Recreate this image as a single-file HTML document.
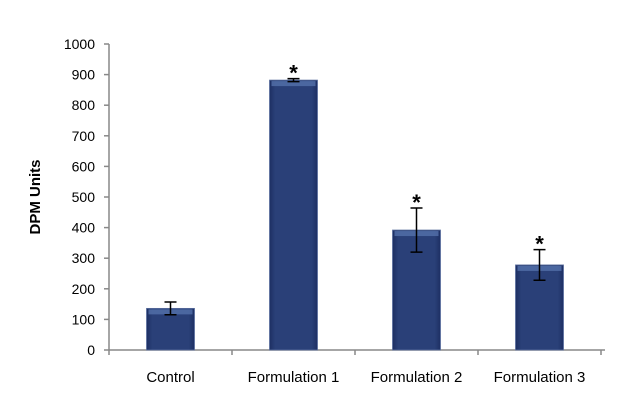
<!DOCTYPE html>
<html><head><meta charset="utf-8"><style>
body{margin:0;background:#fff;}
text{font-family:"Liberation Sans",sans-serif;}
</style></head><body>
<svg id="chart" width="625" height="407" viewBox="0 0 625 407">
<defs>
<linearGradient id="bg" x1="0" x2="1" y1="0" y2="0">
<stop offset="0" stop-color="#1d2f63"/><stop offset="0.12" stop-color="#2a4078"/><stop offset="0.88" stop-color="#2a4078"/><stop offset="1" stop-color="#1d2f63"/>
</linearGradient>
</defs>
<g id="plot"></g>
</svg>
<script>
const categories=["Control","Formulation 1","Formulation 2","Formulation 3"];
const values=[136,882,392,278];
const errors=[21,5,72,50];
const stars=[false,true,true,true];
const yTicks=[0,100,200,300,400,500,600,700,800,900,1000];
const x0=109,x1=601,y0=350,y1=44,yMax=1000;
const band=(x1-x0)/categories.length;
const Y=v=>y0-(v/yMax)*(y0-y1);
const X=i=>x0+band*(i+0.5);
const g=document.getElementById('plot');
const NS='http://www.w3.org/2000/svg';
function mk(t,a,p){const e=document.createElementNS(NS,t);for(const k in a)e.setAttribute(k,a[k]);(p||g).appendChild(e);return e;}
let e;
e=mk('line',{x1:x0,y1:y1,x2:x0,y2:y0,stroke:'#888','stroke-width':1.5});


e=mk('line',{x1:x0,y1:y0,x2:x1+4,y2:y0,stroke:'#888','stroke-width':1.5});


yTicks.forEach(t=>{
 e=mk('line',{x1:x0-5,y1:Y(t),x2:x0,y2:Y(t),stroke:'#888','stroke-width':1.5});
 
 
 e=mk('text',{x:x0-14,y:Y(t)+5,'text-anchor':'end','font-size':14,fill:'#000'});e.textContent=t;
 
 
});
for(let i=0;i<=categories.length;i++){
 e=mk('line',{x1:x0+band*i,y1:y0,x2:x0+band*i,y2:y0+5,stroke:'#888','stroke-width':1.5});
 
 
}
categories.forEach((c,i)=>{
 const cx=X(i),w=48,top=Y(values[i]);
 e=mk('rect',{x:cx-w/2,y:top,width:w,height:y0-top,fill:'url(#bg)',stroke:'#5b6f9e','stroke-width':0.8});
 
 
 e=mk('rect',{x:cx-w/2+2,y:top+1,width:w-4,height:5,fill:'#5470aa',opacity:0.8});
 
 
 const ya=Y(values[i]+errors[i]),yb=Y(values[i]-errors[i]);
 e=mk('path',{d:`M${cx},${ya}V${yb}M${cx-6},${ya}H${cx+6}M${cx-6},${yb}H${cx+6}`,stroke:'#000','stroke-width':1.5,fill:'none'});
 
 
 if(stars[i]){
  e=mk('text',{x:cx,y:ya+2,'text-anchor':'middle','font-size':22,'font-weight':'bold',fill:'#000'});e.textContent='*';
  
  
 }
 e=mk('text',{x:cx,y:382,'text-anchor':'middle','font-size':15,fill:'#000'});e.textContent=c;
 
 
});
e=mk('text',{x:0,y:0,transform:'translate(40,197) rotate(-90)','text-anchor':'middle','font-size':15,'font-weight':'bold',fill:'#000'});e.textContent='DPM Units';


</script>
</body></html>
